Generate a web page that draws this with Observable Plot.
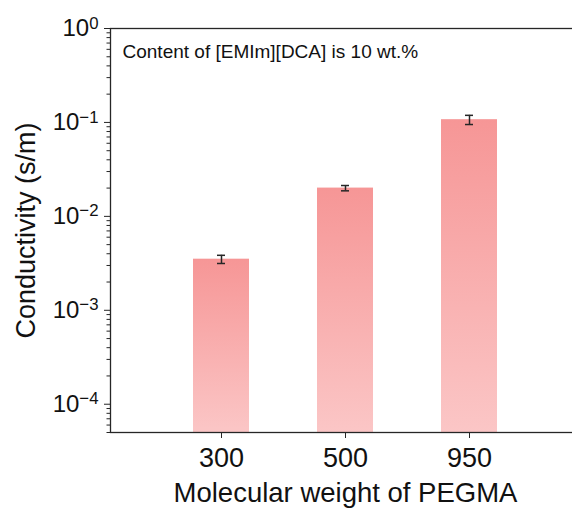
<!DOCTYPE html>
<html><head><meta charset="utf-8">
<script src="https://cdn.jsdelivr.net/npm/d3@7"></script>
<script src="https://cdn.jsdelivr.net/npm/@observablehq/plot@0.6"></script>
<style>html,body{margin:0;padding:0;overflow:hidden;background:#fff}</style>
</head><body><div id="chart"></div>
<script>
const categories = ["300", "500", "950"];
const values = [3.5e-3, 2.0e-2, 0.107];
const errors = [0.35e-3, 0.0013, 0.012];
const yMajorTicks = [1e-4, 1e-3, 1e-2, 1e-1, 1];
const yMin = 5e-5, yMax = 1;
const annotation = "Content of [EMIm][DCA] is 10 wt.%";
const xTitle = "Molecular weight of PEGMA";
const yTitle = "Conductivity (s/m)";

const data = categories.map((c, i) => ({mw: c, value: values[i], err: errors[i]}));
const minorTicks = [];
for (let e = -5; e < 0; e++) for (let k = 2; k <= 9; k++) {
  const v = k * Math.pow(10, e);
  if (v >= yMin && v <= yMax) minorTicks.push(v);
}
const font = "'Liberation Sans', Arial, sans-serif";
const axisColor = "#262626";

const chart = Plot.plot({
  width: 572, height: 508,
  marginTop: 28, marginBottom: 76, marginLeft: 110, marginRight: 0,
  style: {fontFamily: font, background: "#fff", color: "#111"},
  x: {domain: categories, range: [159, 531], paddingInner: 0.55, paddingOuter: 0.275, axis: null},
  y: {type: "log", domain: [yMin, yMax], axis: null},
  marks: [
    Plot.barY(data, {x: "mw", y1: yMin, y2: "value", fill: "url(#barGrad)"}),
    Plot.ruleX(data, {x: "mw", y1: d => d.value - d.err, y2: d => d.value + d.err, stroke: axisColor, strokeWidth: 1.5}),
    Plot.tickY(data, {x: "mw", y: d => d.value - d.err, insetLeft: 24, insetRight: 24, stroke: axisColor, strokeWidth: 1.5}),
    Plot.tickY(data, {x: "mw", y: d => d.value + d.err, insetLeft: 24, insetRight: 24, stroke: axisColor, strokeWidth: 1.5}),
    Plot.axisY({ticks: minorTicks, tickSize: 3.5, tickFormat: () => "", label: null, stroke: axisColor}),
    Plot.axisY({ticks: yMajorTicks, tickSize: 6, tickPadding: 6, fontSize: 24, label: null, stroke: axisColor,
      tickFormat: d => String(Math.round(Math.log10(d)))}),
    Plot.axisX({tickSize: 6, tickPadding: 9, fontSize: 27, label: null, stroke: axisColor}),
    Plot.frame({stroke: axisColor, strokeWidth: 1.3, insetRight: -10}),
    Plot.text([yTitle], {frameAnchor: "left", dx: -84, rotate: -90, textAnchor: "middle", lineAnchor: "middle", fontSize: 27}),
    Plot.text([xTitle], {frameAnchor: "bottom", dx: 4, dy: 61, lineAnchor: "middle", fontSize: 27.5}),
    Plot.text([annotation], {frameAnchor: "top-left", dx: 12, dy: 23, textAnchor: "start", lineAnchor: "middle", fontSize: 19})
  ]
});

const ns = "http://www.w3.org/2000/svg";
const svg = chart.tagName.toLowerCase() === "svg" ? chart : chart.querySelector("svg");
const defs = document.createElementNS(ns, "defs");
const grad = document.createElementNS(ns, "linearGradient");
grad.setAttribute("id", "barGrad");
grad.setAttribute("x1", "0"); grad.setAttribute("y1", "0");
grad.setAttribute("x2", "0"); grad.setAttribute("y2", "1");
[["0%", "#f69696"], ["100%", "#fbc6c6"]].forEach(([o, c]) => {
  const s = document.createElementNS(ns, "stop");
  s.setAttribute("offset", o); s.setAttribute("stop-color", c);
  grad.appendChild(s);
});
defs.appendChild(grad);
svg.insertBefore(defs, svg.firstChild);

svg.querySelectorAll('g[aria-label="y-axis tick label"] text').forEach(t => {
  const e = t.textContent.trim();
  if (!e) return;
  t.textContent = "10";
  const sup = document.createElementNS(ns, "tspan");
  sup.setAttribute("dy", "-0.45em");
  sup.setAttribute("font-size", "0.7em");
  sup.textContent = e.replace("-", "\u2212");
  t.appendChild(sup);
});
document.getElementById("chart").appendChild(chart);
</script></body></html>
